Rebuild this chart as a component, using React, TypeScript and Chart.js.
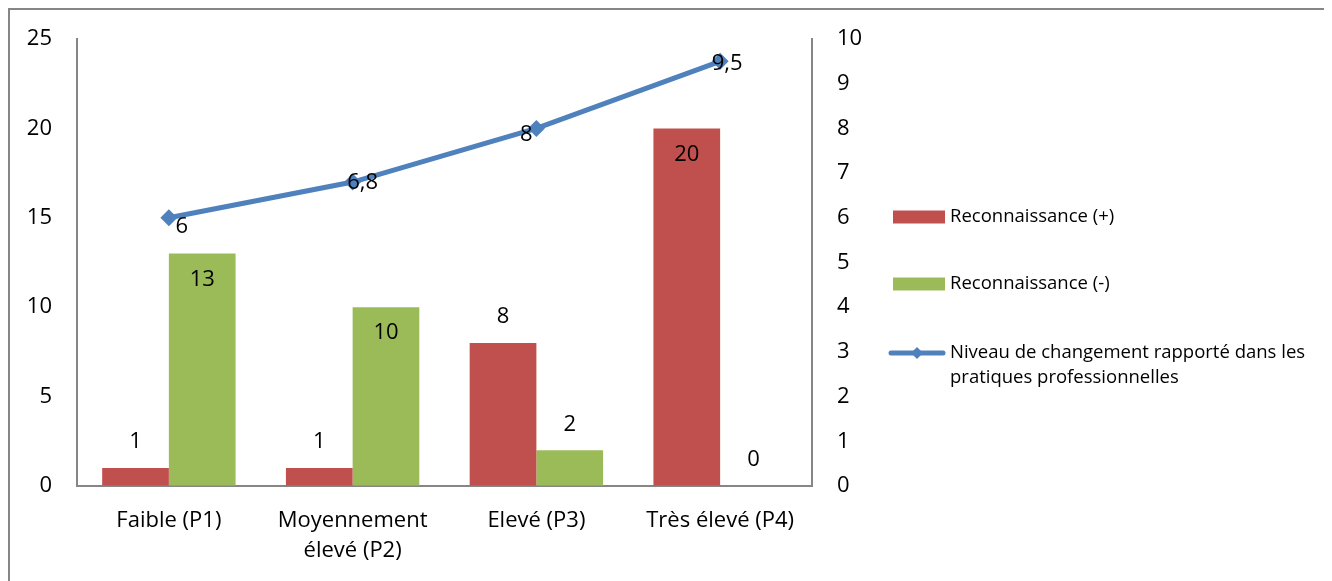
import React, { useEffect, useRef } from "react";
import { Chart, registerables } from "chart.js";

Chart.register(...registerables);

// Categories and series
const categories: (string | string[])[] = [
  "Faible (P1)",
  ["Moyennement", "élevé (P2)"],
  "Elevé (P3)",
  "Très élevé (P4)",
];
const reconPlus = [1, 1, 8, 20];
const reconMinus = [13, 10, 2, 0];
const niveauChangement = [6, 6.8, 8, 9.5];

const seriesNames = [
  "Reconnaissance (+)",
  "Reconnaissance (-)",
  ["Niveau de changement rapporté dans les", "pratiques professionnelles"],
];

// Tick ranges for the two value axes
const leftTicks = [0, 5, 10, 15, 20, 25];
const rightTicks = [0, 1, 2, 3, 4, 5, 6, 7, 8, 9, 10];

// Where each bar label sits: above the bar ("out") or just inside its top ("in")
const plusLabelPos = ["out", "out", "out", "in"];
const minusLabelPos = ["in", "in", "out", "out"];
// Label nudges for the line points (dx, dy)
const lineLabelOffsets = [
  [13, 9],
  [10, 1],
  [-10, 6],
  [7, 2],
];

const RED = "#C0504D";
const GREEN = "#9BBB59";
const BLUE = "#4F81BD";
const AXIS = "#868686";
const FONT = "'Open Sans', Lato, sans-serif";
const TICK_SIZE = 22;
const LEGEND_SIZE = 18.5;

const fmt = (v: number) => String(v).replace(".", ",");

const valueLabels = {
  id: "valueLabels",
  afterDatasetsDraw(chart: any) {
    const ctx = chart.ctx;
    ctx.save();
    ctx.font = `${TICK_SIZE}px ${FONT}`;
    ctx.fillStyle = "#000";
    ctx.textAlign = "center";
    ctx.textBaseline = "middle";
    const barSets = [
      { idx: 0, pos: plusLabelPos },
      { idx: 1, pos: minusLabelPos },
    ];
    barSets.forEach(({ idx, pos }) => {
      const meta = chart.getDatasetMeta(idx);
      const data = chart.data.datasets[idx].data as number[];
      meta.data.forEach((el: any, i: number) => {
        const dy = pos[i] === "in" ? 26 : -26;
        ctx.fillText(fmt(data[i]), el.x, el.y + dy);
      });
    });
    const lineMeta = chart.getDatasetMeta(2);
    const lineData = chart.data.datasets[2].data as number[];
    lineMeta.data.forEach((el: any, i: number) => {
      const [dx, dy] = lineLabelOffsets[i];
      ctx.fillText(fmt(lineData[i]), el.x + dx, el.y + dy);
    });
    ctx.restore();
  },
};

const sideLegend = {
  id: "sideLegend",
  afterDraw(chart: any) {
    const ctx = chart.ctx;
    const { right, top } = chart.chartArea;
    const x0 = right + 81;
    const tx = right + 138;
    ctx.save();
    ctx.font = `${LEGEND_SIZE}px ${FONT}`;
    ctx.textAlign = "left";
    ctx.textBaseline = "middle";

    const rows = [top + 178, top + 245, top + 314];

    // bar swatches
    ctx.fillStyle = RED;
    ctx.fillRect(x0, rows[0] - 6.5, 52, 13);
    ctx.fillStyle = GREEN;
    ctx.fillRect(x0, rows[1] - 6.5, 52, 13);

    // line swatch with diamond
    ctx.strokeStyle = BLUE;
    ctx.lineWidth = 5;
    ctx.lineCap = "round";
    ctx.beginPath();
    ctx.moveTo(x0 - 2, rows[2]);
    ctx.lineTo(x0 + 50, rows[2]);
    ctx.stroke();
    ctx.fillStyle = BLUE;
    ctx.beginPath();
    const cx = x0 + 24;
    const r = 6;
    ctx.moveTo(cx - r, rows[2]);
    ctx.lineTo(cx, rows[2] - r);
    ctx.lineTo(cx + r, rows[2]);
    ctx.lineTo(cx, rows[2] + r);
    ctx.closePath();
    ctx.fill();

    ctx.fillStyle = "#000";
    ctx.fillText(seriesNames[0] as string, tx, rows[0]);
    ctx.fillText(seriesNames[1] as string, tx, rows[1]);
    const lines = seriesNames[2] as string[];
    lines.forEach((t, i) => ctx.fillText(t, tx, rows[2] + i * 25));
    ctx.restore();
  },
};

export default function App() {
  const canvasRef = useRef<HTMLCanvasElement | null>(null);

  useEffect(() => {
    if (!canvasRef.current) return;
    const chart = new Chart(canvasRef.current, {
      type: "bar",
      data: {
        labels: categories,
        datasets: [
          {
            type: "bar",
            label: seriesNames[0] as string,
            data: reconPlus,
            backgroundColor: RED,
            yAxisID: "y",
            order: 2,
          },
          {
            type: "bar",
            label: seriesNames[1] as string,
            data: reconMinus,
            backgroundColor: GREEN,
            yAxisID: "y",
            order: 2,
          },
          {
            type: "line",
            label: (seriesNames[2] as string[]).join(" "),
            data: niveauChangement,
            borderColor: BLUE,
            backgroundColor: BLUE,
            borderWidth: 5,
            pointStyle: "rectRot",
            pointRadius: 8.5,
            pointBorderWidth: 0,
            tension: 0,
            yAxisID: "y1",
            order: 1,
          } as any,
        ],
      },
      options: {
        responsive: true,
        maintainAspectRatio: false,
        animation: false,
        datasets: {
          bar: { categoryPercentage: 0.726, barPercentage: 1 },
        },
        layout: { padding: { left: 0, right: 460, top: 29, bottom: 0 } },
        font: { family: FONT, size: TICK_SIZE },
        plugins: {
          legend: { display: false },
          tooltip: { enabled: false },
        },
        scales: {
          x: {
            grid: { drawOnChartArea: false, drawTicks: false },
            border: { color: AXIS, width: 2 },
            ticks: {
              color: "#000",
              padding: 20,
              maxRotation: 0,
              font: { family: FONT, size: TICK_SIZE, lineHeight: 30 / TICK_SIZE },
            },
            afterFit: (s: any) => {
              s.height = 95;
              s.paddingLeft = 0;
              s.paddingRight = 0;
            },
          },
          y: {
            position: "left",
            min: leftTicks[0],
            max: leftTicks[leftTicks.length - 1],
            afterBuildTicks: (s: any) => {
              s.ticks = leftTicks.map((v) => ({ value: v }));
            },
            grid: { drawOnChartArea: false, drawTicks: false },
            border: { color: AXIS, width: 2 },
            ticks: {
              color: "#000",
              padding: 25,
              font: { family: FONT, size: TICK_SIZE },
            },
            afterFit: (s: any) => {
              s.width = 67;
              s.paddingTop = 0;
              s.paddingBottom = 0;
            },
          },
          y1: {
            position: "right",
            min: rightTicks[0],
            max: rightTicks[rightTicks.length - 1],
            afterBuildTicks: (s: any) => {
              s.ticks = rightTicks.map((v) => ({ value: v }));
            },
            grid: { drawOnChartArea: false, drawTicks: false },
            border: { color: AXIS, width: 2 },
            ticks: {
              color: "#000",
              padding: 25,
              font: { family: FONT, size: TICK_SIZE },
            },
            afterFit: (s: any) => {
              s.width = 60;
              s.paddingTop = 0;
              s.paddingBottom = 0;
            },
          },
        },
      },
      plugins: [valueLabels, sideLegend],
    });
    return () => chart.destroy();
  }, []);

  return (
    <div
      style={{
        width: 1324,
        height: 573,
        boxSizing: "border-box",
        borderTop: `2px solid ${AXIS}`,
        borderLeft: `2px solid ${AXIS}`,
        position: "relative",
        background: "#fff",
      }}
    >
      <canvas ref={canvasRef} />
    </div>
  );
}
